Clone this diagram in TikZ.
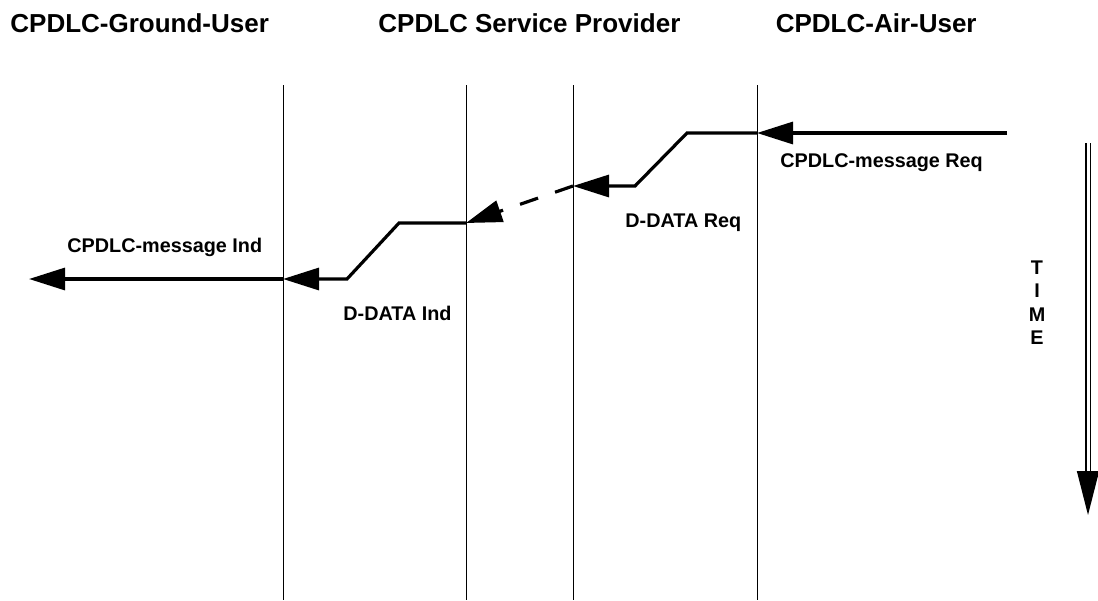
\documentclass[tikz,border=0pt]{standalone}
\usepackage{fontspec}
\setmainfont{Liberation Sans}
\usetikzlibrary{arrows.meta}
\tikzset{
    >={Triangle[length=18pt, width=11pt]},
    % Lines
    lifeline/.style={line width=0.5pt},
    msg/.style={line width=1.6pt},
    timearrow/.style={line width=0.75pt, double=white, double distance=1.5pt,
                      -{Triangle[length=22pt, width=11pt]}},
    % Texts
    hdr/.style={font=\fontsize{13}{15}\selectfont\bfseries, inner sep=0pt, anchor=base west},
    lbl/.style={font=\fontsize{9.9}{11.8}\selectfont\bfseries, inner sep=0pt, anchor=base west}
}
\begin{document}
\begin{tikzpicture}[x=0.5pt, y=-0.5pt]
\useasboundingbox (0,0) rectangle (1098,600);

% Headers
\node[hdr] (ground) at (10,32) {CPDLC-Ground-User};
\node[hdr] (provider) at (378,32) {CPDLC Service Provider};
\node[hdr, anchor=base east] (air) at (977,32) {CPDLC-Air-User};

% Lifelines
\foreach \n/\x in {g/283, pa/466, pb/573, a/757} {
    \coordinate (\n top) at (\x,85);
    \coordinate (\n bot) at (\x,600);
    \draw[lifeline] (\n top) -- (\n bot);
}

% Message points
\coordinate (airin) at (1007,133);
\coordinate (a1) at (757,133);
\coordinate (k1) at (687,133);
\coordinate (k2) at (635,186);
\coordinate (pb1) at (573,186);
\coordinate (pa1) at (466,223);
\coordinate (k3) at (399,223);
\coordinate (k4) at (347,279);
\coordinate (g1) at (283,279);
\coordinate (gout) at (29,279);

\draw[msg, ->] (airin) -- (a1);
\draw[msg, ->] (a1) -- (k1) -- (k2) -- (pb1);
\draw[msg, dash pattern=on 9.5pt off 9pt, ->] (pb1) -- (pa1);
\draw[msg, ->] (pa1) -- (k3) -- (k4) -- (g1);
\draw[msg, ->] (g1) -- (gout);

% Labels
\node[lbl] (reqair) at (780,167) {CPDLC-message Req};
\node[lbl] (reqdata) at (625,227) {D-DATA Req};
\node[lbl] (inddata) at (343,320) {D-DATA Ind};
\node[lbl] (indground) at (67,252) {CPDLC-message Ind};

% Time
\coordinate (ttop) at (1088,143);
\coordinate (ttip) at (1088,515);
\draw[timearrow] (ttop) -- (ttip);
\node[lbl, anchor=north, align=center] (time) at (1037,260) {T\\I\\M\\E};

\end{tikzpicture}
\end{document}
